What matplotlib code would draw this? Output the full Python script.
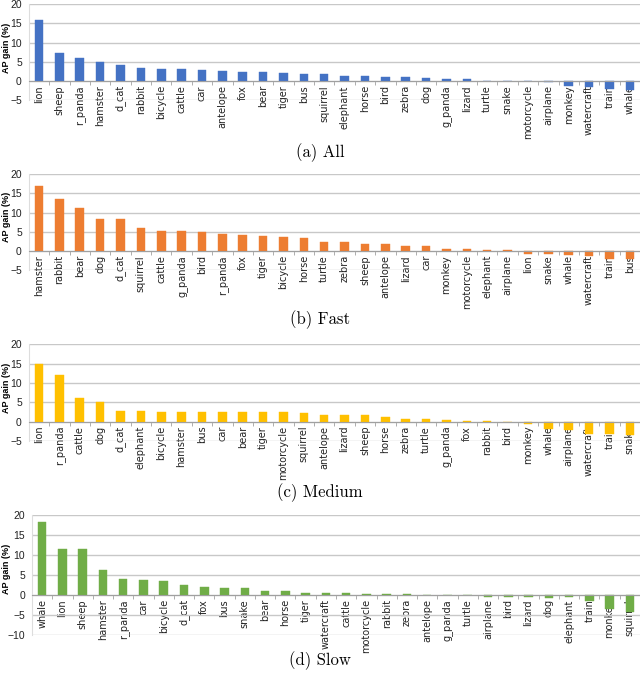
import numpy as np
import matplotlib
matplotlib.use("Agg")
import matplotlib.pyplot as plt
from matplotlib.ticker import FixedLocator

all_labels = ['lion', 'sheep', 'r_panda', 'hamster', 'd_cat', 'rabbit', 'bicycle', 'cattle', 'car', 'antelope',
              'fox', 'bear', 'tiger', 'bus', 'squirrel', 'elephant', 'horse', 'bird', 'zebra', 'dog',
              'g_panda', 'lizard', 'turtle', 'snake', 'motorcycle', 'airplane', 'monkey', 'watercraft', 'train', 'whale']
all_vals = [16.0, 7.4, 6.1, 5.0, 4.1, 3.5, 3.2, 3.0, 2.9, 2.7,
            2.4, 2.3, 2.2, 1.9, 1.7, 1.4, 1.2, 1.0, 1.0, 0.8,
            0.5, 0.4, 0.0, 0.0, 0.0, -0.3, -1.4, -1.6, -2.0, -2.4]

fast_labels = ['hamster', 'rabbit', 'bear', 'dog', 'd_cat', 'squirrel', 'cattle', 'g_panda', 'bird', 'r_panda',
               'fox', 'tiger', 'bicycle', 'horse', 'turtle', 'zebra', 'sheep', 'antelope', 'lizard', 'car',
               'monkey', 'motorcycle', 'elephant', 'airplane', 'lion', 'snake', 'whale', 'watercraft', 'train', 'bus']
fast_vals = [17.0, 13.4, 11.3, 8.2, 8.2, 6.0, 5.1, 5.1, 4.9, 4.4,
             4.2, 3.8, 3.7, 3.3, 2.3, 2.2, 1.9, 1.7, 1.4, 1.2,
             0.6, 0.4, 0.35, 0.3, -0.7, -0.7, -1.0, -1.3, -2.0, -2.2]

medium_labels = ['lion', 'r_panda', 'cattle', 'dog', 'd_cat', 'elephant', 'bicycle', 'hamster', 'bus', 'car',
                 'bear', 'tiger', 'motorcycle', 'squirrel', 'antelope', 'lizard', 'sheep', 'horse', 'zebra', 'turtle',
                 'g_panda', 'fox', 'rabbit', 'bird', 'monkey', 'whale', 'airplane', 'watercraft', 'train', 'snake']
medium_vals = [14.8, 12.1, 6.2, 5.2, 2.8, 2.7, 2.5, 2.5, 2.4, 2.4,
               2.4, 2.4, 2.4, 2.3, 1.8, 1.7, 1.6, 1.1, 0.8, 0.8,
               0.4, 0.25, 0.2, 0.0, -0.6, -1.8, -2.2, -3.1, -3.3, -3.4]

slow_labels = ['whale', 'lion', 'sheep', 'hamster', 'r_panda', 'car', 'bicycle', 'd_cat', 'fox', 'bus',
               'snake', 'bear', 'horse', 'tiger', 'watercraft', 'cattle', 'motorcycle', 'rabbit', 'zebra', 'antelope',
               'g_panda', 'turtle', 'airplane', 'bird', 'lizard', 'dog', 'elephant', 'train', 'monkey', 'squirrel']
slow_vals = [18.3, 11.6, 11.5, 6.2, 3.9, 3.8, 3.4, 2.5, 1.9, 1.8,
             1.7, 1.1, 1.0, 0.5, 0.5, 0.4, 0.15, 0.15, 0.15, 0.1,
             0.1, 0.1, -0.4, -0.4, -0.5, -0.7, -0.6, -1.6, -3.6, -4.2]

panels = [
    (all_labels, all_vals, '#4472C4', '(a) All', [0.045, 0.852, 0.955, 0.1418], -5, 153),
    (fast_labels, fast_vals, '#ED7D31', '(b) Fast', [0.045, 0.601, 0.955, 0.1418], -5, 320),
    (medium_labels, medium_vals, '#FFC000', '(c) Medium', [0.045, 0.3486, 0.955, 0.1428], -5, 493),
    (slow_labels, slow_vals, '#70AD47', '(d) Slow', [0.05, 0.062, 0.95, 0.1773], -10, 661),
]

narrow = ['Liberation Sans Narrow', 'Liberation Sans', 'DejaVu Sans']

fig = plt.figure(figsize=(6.4, 6.77), dpi=100)

for labels, vals, color, caption, rect, ymin, cap_y in panels:
    ax = fig.add_axes(rect)
    x = np.arange(len(labels))
    ax.bar(x, vals, width=0.42, color=color, edgecolor=color, linewidth=0.3, zorder=3)
    ax.set_xlim(-0.5, len(labels) - 0.5)
    ax.set_ylim(ymin, 20)
    ax.set_yticks(np.arange(ymin, 21, 5))
    ax.yaxis.grid(True, color='#c8c8c8', linewidth=1.0, zorder=0)
    ax.tick_params(axis='y', length=0, pad=5, labelcolor='#222222')
    for lab in ax.get_yticklabels():
        lab.set_family(narrow)
        lab.set_fontsize(7.5)

    ax.spines['bottom'].set_position(('data', 0))
    ax.spines['bottom'].set_color('#a0a0a0')
    ax.spines['bottom'].set_zorder(4)
    ax.spines['left'].set_color('#dddddd')
    ax.spines['top'].set_visible(False)
    ax.spines['right'].set_visible(False)

    ax.set_xticks(x)
    ax.set_xticklabels(labels, rotation=90, fontsize=7, color='#222222')
    ax.tick_params(axis='x', which='major', length=0, pad=3)
    ax.xaxis.set_minor_locator(FixedLocator(np.arange(len(labels) + 1) - 0.5))
    ax.tick_params(axis='x', which='minor', length=3, color='#a0a0a0', direction='out')
    for lab in ax.get_xticklabels():
        lab.set_zorder(5)

    ax.set_ylabel('AP gain (%)', fontsize=6.5, fontweight='bold',
                  family=['Liberation Sans', 'DejaVu Sans'], va='center')
    left_px = rect[0] * 640
    ax.yaxis.set_label_coords((6.5 - left_px) / (rect[2] * 640), 0.55)

    fig.text(0.5, 1 - cap_y / 677, caption, ha='center', va='center',
             fontsize=12, family='cmr10')

fig.savefig('out.png', dpi=100)
